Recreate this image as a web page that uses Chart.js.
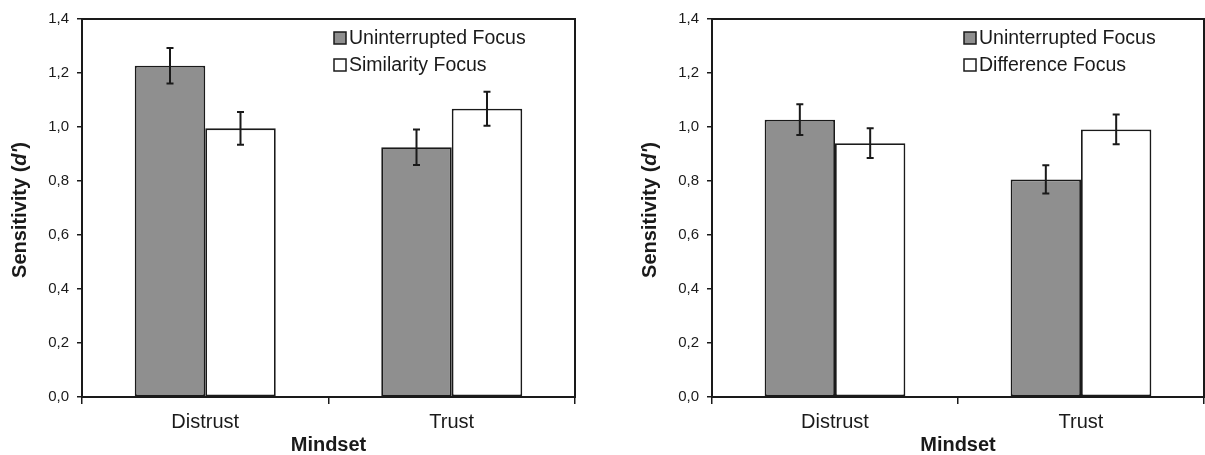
<!DOCTYPE html>
<html>
<head>
<meta charset="utf-8">
<script src="https://cdn.jsdelivr.net/npm/chart.js@4"></script>
<style>
  html, body { margin: 0; padding: 0; background: #fff; }
  #wrap { position: relative; width: 1205px; height: 455px; overflow: hidden; }
  canvas { position: absolute; top: 0; }
</style>
</head>
<body>
<div id="wrap">
  <canvas id="c1" width="600" height="455" style="left:0px"></canvas>
  <canvas id="c2" width="605" height="455" style="left:600px"></canvas>
</div>
<script>
// ---------- data ----------
const categories = ['Distrust', 'Trust'];
const yTicks = [0, 0.2, 0.4, 0.6, 0.8, 1.0, 1.2, 1.4];

const leftLabels = ['Uninterrupted Focus', 'Similarity Focus'];
const leftUninterrupted = [1.227, 0.925];
const leftUninterruptedErr = [0.066, 0.066];
const leftSimilarity = [0.995, 1.068];
const leftSimilarityErr = [0.061, 0.063];

const rightLabels = ['Uninterrupted Focus', 'Difference Focus'];
const rightUninterrupted = [1.027, 0.806];
const rightUninterruptedErr = [0.057, 0.052];
const rightDifference = [0.940, 0.991];
const rightDifferenceErr = [0.055, 0.055];

const xTitle = 'Mindset';
const yTitleParts = [['Sensitivity (', 'normal'], ["d'", 'italic'], [')', 'normal']];

// ---------- styling ----------
const FONT = "'Liberation Sans', Arial, Helvetica, sans-serif";
const INK = '#1a1a1a';
const GRAY = '#8f8f8f';

const framePlugin = {
  id: 'frame',
  afterDraw(chart) {
    const {ctx, chartArea: a} = chart;
    ctx.save();
    ctx.strokeStyle = INK;
    ctx.lineWidth = 2;
    ctx.strokeRect(a.left, a.top, a.right - a.left, a.bottom - a.top);
    ctx.restore();
  }
};

const errorBarPlugin = {
  id: 'errorBars',
  afterDatasetsDraw(chart) {
    const {ctx} = chart;
    const y = chart.scales.y;
    ctx.save();
    ctx.strokeStyle = INK;
    ctx.lineWidth = 2;
    chart.data.datasets.forEach((ds, i) => {
      const meta = chart.getDatasetMeta(i);
      meta.data.forEach((el, j) => {
        const v = ds.data[j], e = ds.errors[j];
        const yt = y.getPixelForValue(v + e);
        const yb = y.getPixelForValue(v - e);
        const x = el.x;
        ctx.beginPath();
        ctx.moveTo(x, yt); ctx.lineTo(x, yb);
        ctx.moveTo(x - 3.5, yt); ctx.lineTo(x + 3.5, yt);
        ctx.moveTo(x - 3.5, yb); ctx.lineTo(x + 3.5, yb);
        ctx.stroke();
      });
    });
    ctx.restore();
  }
};

const legendPlugin = {
  id: 'boxLegend',
  afterDraw(chart) {
    const {ctx, chartArea: a} = chart;
    ctx.save();
    ctx.font = '19.5px ' + FONT;
    ctx.textBaseline = 'middle';
    ctx.textAlign = 'left';
    chart.data.datasets.forEach((ds, i) => {
      const cy = 38 + i * 27;
      const bx = a.left + 252;
      ctx.fillStyle = ds.backgroundColor;
      ctx.fillRect(bx, cy - 6, 12, 12);
      ctx.strokeStyle = INK;
      ctx.lineWidth = 1.5;
      ctx.strokeRect(bx, cy - 6, 12, 12);
      ctx.fillStyle = INK;
      ctx.fillText(ds.label, bx + 15, cy + 1);
    });
    ctx.restore();
  }
};

const yTitlePlugin = {
  id: 'yTitle',
  afterDraw(chart) {
    const {ctx, chartArea: a} = chart;
    const cx = chart.options.plugins.yTitle.x;
    const cy = (a.top + a.bottom) / 2 + 2;
    ctx.save();
    const fonts = yTitleParts.map(p => (p[1] === 'italic' ? 'italic ' : '') + 'bold 20px ' + FONT);
    let total = 0;
    const widths = yTitleParts.map((p, k) => { ctx.font = fonts[k]; const w = ctx.measureText(p[0]).width; total += w; return w; });
    ctx.translate(cx, cy);
    ctx.rotate(-Math.PI / 2);
    ctx.fillStyle = INK;
    ctx.textBaseline = 'middle';
    ctx.textAlign = 'left';
    let x = -total / 2;
    yTitleParts.forEach((p, k) => { ctx.font = fonts[k]; ctx.fillText(p[0], x, 0); x += widths[k]; });
    ctx.restore();
  }
};

function makeChart(id, labels, d1, e1, d2, e2, yAxisWidth, padRight, titleX) {
  return new Chart(document.getElementById(id), {
    type: 'bar',
    data: {
      labels: categories,
      datasets: [
        { label: labels[0], data: d1, errors: e1, backgroundColor: GRAY, borderColor: INK, borderWidth: 1.8, borderSkipped: false },
        { label: labels[1], data: d2, errors: e2, backgroundColor: '#ffffff', borderColor: INK, borderWidth: 1.8, borderSkipped: false }
      ]
    },
    options: {
      responsive: false,
      animation: false,
      devicePixelRatio: 1,
      layout: { padding: { top: 19, right: padRight, left: 0, bottom: 0 } },
      datasets: { bar: { barPercentage: 1.0, categoryPercentage: 0.572 } },
      plugins: {
        legend: { display: false },
        tooltip: { enabled: false },
        yTitle: { x: titleX }
      },
      scales: {
        x: {
          offset: true,
          grid: { offset: true, drawOnChartArea: false, drawTicks: true, tickLength: 7, color: INK, lineWidth: 1.5 },
          border: { display: true, color: INK, width: 2 },
          ticks: { color: INK, font: { family: FONT, size: 20 }, padding: 6 },
          title: { display: true, text: xTitle, color: INK, font: { family: FONT, size: 20, weight: 'bold', lineHeight: 1 }, padding: 0 },
          afterFit(scale) { scale.height = 58; }
        },
        y: {
          min: 0, max: 1.4,
          afterBuildTicks(scale) { scale.ticks = yTicks.map(v => ({ value: v })); },
          grid: { drawOnChartArea: false, drawTicks: true, tickLength: 5, color: INK, lineWidth: 1.5 },
          border: { display: true, color: INK, width: 2 },
          ticks: { color: INK, font: { family: FONT, size: 15 }, padding: 8,
                   callback: v => Number(v).toFixed(1).replace('.', ',') },
          afterFit(scale) { scale.width = yAxisWidth; }
        }
      }
    },
    plugins: [errorBarPlugin, framePlugin, legendPlugin, yTitlePlugin]
  });
}

makeChart('c1', leftLabels, leftUninterrupted, leftUninterruptedErr, leftSimilarity, leftSimilarityErr, 82, 25, 20);
makeChart('c2', rightLabels, rightUninterrupted, rightUninterruptedErr, rightDifference, rightDifferenceErr, 112, 1, 50);
</script>
</body>
</html>
